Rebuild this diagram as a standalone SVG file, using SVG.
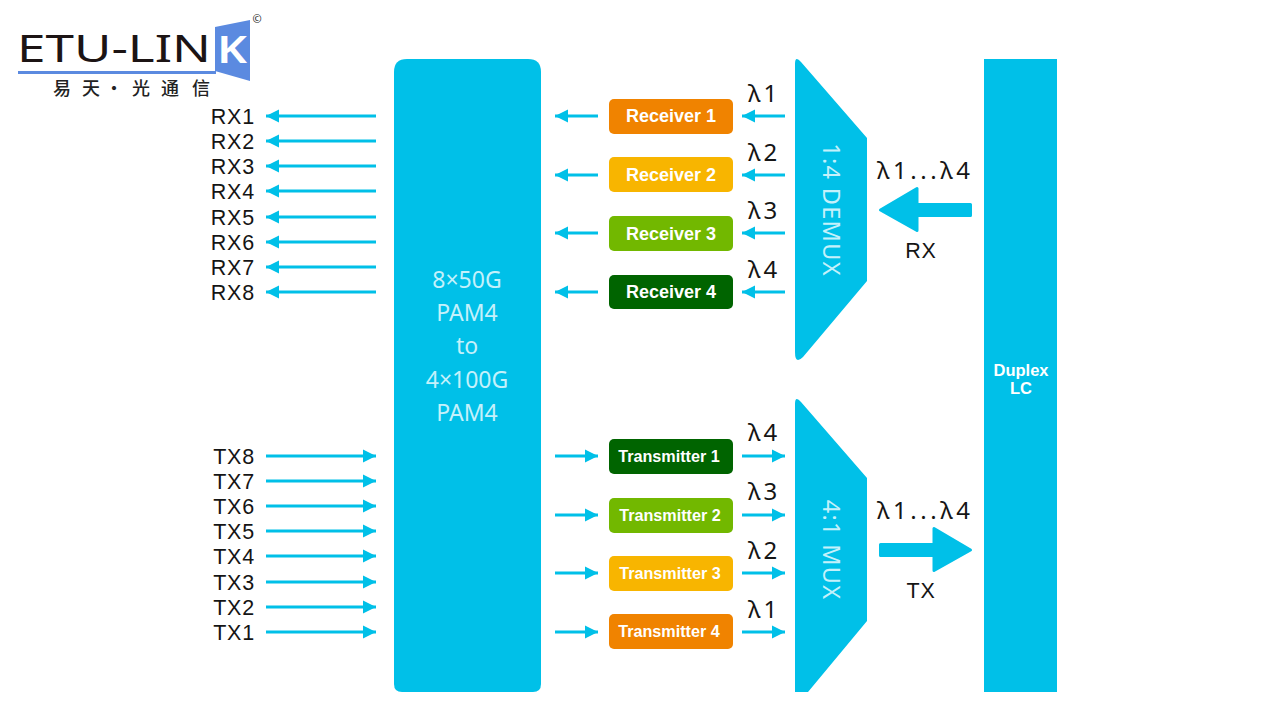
<svg xmlns="http://www.w3.org/2000/svg" width="1269" height="714" viewBox="0 0 1269 714">
<style>
.blk{fill:#00c0e8}
.lab{font-family:"Liberation Sans",Arial,sans-serif;font-size:21.500px;fill:#151515;letter-spacing:.8px}
.wl{font-family:"Noto Sans","Noto Sans CJK SC",sans-serif;font-size:24px;fill:#151515;letter-spacing:3px}
.pale{font-family:"Noto Sans",sans-serif;font-size:23px;fill:#c4f1fb;text-anchor:middle}
.v{font-size:23.500px;letter-spacing:1.3px}
.box{font-family:"Liberation Sans",Arial,sans-serif;font-weight:bold;fill:#fff;text-anchor:middle}
.r{font-size:18px}.t{font-size:16.200px}
.end{text-anchor:end}.mid{text-anchor:middle}
.cn{stroke:#00c0e8;stroke-width:3;fill:none;marker-end:url(#ah)}
</style>
<defs>
<marker id="ah" markerUnits="userSpaceOnUse" markerWidth="16" markerHeight="16" refX="13" refY="8" orient="auto"><path d="M0 1.500L13 8L0 14.500Z" fill="#00c0e8"/></marker>
</defs>
<rect width="1269" height="714" fill="#fff"/>
<g id="logo">
<path d="M215 27L250 20V81L215 71Z" fill="#5b8ae0"/>
<rect x="18" y="71" width="198" height="3" fill="#5b8ae0"/>
<text x="17" y="62" font-family="'Noto Sans',sans-serif" font-size="38" fill="#1c1414" textLength="194" lengthAdjust="spacingAndGlyphs">ETU-LIN</text>
<text x="217" y="63" font-family="'Noto Sans',sans-serif" font-size="38" font-weight="600" fill="#fff" textLength="30" lengthAdjust="spacingAndGlyphs">K</text>
<text x="257" y="23" font-family="'Noto Sans',sans-serif" font-size="11" fill="#222" text-anchor="middle">©</text>
<text x="53 82 105 132 161 192" y="95" font-family="'Noto Sans CJK SC',sans-serif" font-size="18" font-weight="500" fill="#222">易天·光通信</text>
</g>
<g id="connectors">
<path class="cn" d="M376 116H266"/><path class="cn" d="M376 141H266"/><path class="cn" d="M376 166H266"/><path class="cn" d="M376 191H266"/><path class="cn" d="M376 217H266"/><path class="cn" d="M376 242H266"/><path class="cn" d="M376 267H266"/><path class="cn" d="M376 292H266"/>
<path class="cn" d="M266 456H376"/><path class="cn" d="M266 481H376"/><path class="cn" d="M266 506H376"/><path class="cn" d="M266 531H376"/><path class="cn" d="M266 556H376"/><path class="cn" d="M266 582H376"/><path class="cn" d="M266 607H376"/><path class="cn" d="M266 632H376"/>
<path class="cn" d="M598 116H555"/><path class="cn" d="M598 175H555"/><path class="cn" d="M598 233H555"/><path class="cn" d="M598 292H555"/>
<path class="cn" d="M785 116H742"/><path class="cn" d="M785 175H742"/><path class="cn" d="M785 233H742"/><path class="cn" d="M785 292H742"/>
<path class="cn" d="M555 456H598"/><path class="cn" d="M555 515H598"/><path class="cn" d="M555 573H598"/><path class="cn" d="M555 632H598"/>
<path class="cn" d="M742 456H785"/><path class="cn" d="M742 515H785"/><path class="cn" d="M742 573H785"/><path class="cn" d="M742 632H785"/>
<path id="rx-arrow" class="blk" stroke="#00c0e8" stroke-width="3" stroke-linejoin="round" d="M970.500 204.500V215.500H917V230.500L880.500 210L917 188.500V204.500Z"/>
<path id="tx-arrow" class="blk" stroke="#00c0e8" stroke-width="3" stroke-linejoin="round" d="M880.500 544.500V555.500H934V570.500L970.500 550L934 528.500V544.500Z"/>
</g>
<g id="rx-labels" class="lab end">
<text x="255" y="124">RX1</text><text x="255" y="149">RX2</text><text x="255" y="174">RX3</text><text x="255" y="199">RX4</text><text x="255" y="225">RX5</text><text x="255" y="250">RX6</text><text x="255" y="275">RX7</text><text x="255" y="300">RX8</text>
</g>
<g id="tx-labels" class="lab end">
<text x="255" y="464">TX8</text><text x="255" y="489">TX7</text><text x="255" y="514">TX6</text><text x="255" y="539">TX5</text><text x="255" y="564">TX4</text><text x="255" y="590">TX3</text><text x="255" y="615">TX2</text><text x="255" y="640">TX1</text>
</g>
<g id="gearbox">
<path class="blk" d="M407 59H528Q541 59 541 72V684Q541 692 533 692H402Q394 692 394 684V72Q394 59 407 59Z"/>
<text class="pale" x="467" y="288">8×50G</text><text class="pale" x="467" y="321">PAM4</text><text class="pale" x="467" y="354">to</text><text class="pale" x="467" y="388">4×100G</text><text class="pale" x="467" y="421">PAM4</text>
</g>
<g id="receiver-1"><rect x="609" y="99" width="124" height="35" rx="5" fill="#f08300"/><text class="box r" x="671" y="122">Receiver 1</text></g>
<g id="receiver-2"><rect x="609" y="157" width="124" height="35" rx="5" fill="#f8b500"/><text class="box r" x="671" y="181">Receiver 2</text></g>
<g id="receiver-3"><rect x="609" y="216" width="124" height="35" rx="5" fill="#72b800"/><text class="box r" x="671" y="240">Receiver 3</text></g>
<g id="receiver-4"><rect x="609" y="275" width="124" height="34" rx="5" fill="#006400"/><text class="box r" x="671" y="298">Receiver 4</text></g>
<g id="transmitter-1"><rect x="609" y="439" width="124" height="35" rx="5" fill="#006400"/><text class="box t" x="669" y="462">Transmitter 1</text></g>
<g id="transmitter-2"><rect x="609" y="498" width="124" height="35" rx="5" fill="#72b800"/><text class="box t" x="670" y="521">Transmitter 2</text></g>
<g id="transmitter-3"><rect x="609" y="556" width="124" height="35" rx="5" fill="#f8b500"/><text class="box t" x="670" y="579">Transmitter 3</text></g>
<g id="transmitter-4"><rect x="609" y="614" width="124" height="35" rx="5" fill="#f08300"/><text class="box t" x="669" y="637">Transmitter 4</text></g>
<g id="wavelengths">
<text class="wl" x="748" y="102">λ1</text><text class="wl" x="748" y="161">λ2</text><text class="wl" x="748" y="219">λ3</text><text class="wl" x="748" y="278">λ4</text>
<text class="wl" x="748" y="441">λ4</text><text class="wl" x="748" y="500">λ3</text><text class="wl" x="748" y="559">λ2</text><text class="wl" x="748" y="618">λ1</text>
<text class="wl" x="877" y="179" textLength="96">λ1...λ4</text><text class="wl" x="877" y="519" textLength="96">λ1...λ4</text>
<text class="lab mid" x="921" y="258">RX</text><text class="lab mid" x="921" y="598">TX</text>
</g>
<g id="demux">
<path class="blk" d="M795 64Q795 55 801 62L867 138V281L803 357Q795 365 795 352Z"/>
<text class="pale v" transform="translate(823 210) rotate(90)">1:4 DEMUX</text>
</g>
<g id="mux">
<path class="blk" d="M795 404Q795 395 801 402L867 478V621L808 692H795Z"/>
<text class="pale v" transform="translate(823 550) rotate(90)" letter-spacing="2.500">4:1 MUX</text>
</g>
<g id="duplex-lc">
<rect class="blk" x="984" y="59" width="73" height="633"/>
<text class="box" font-size="16.500" x="1021" y="376">Duplex</text><text class="box" font-size="16.500" x="1021" y="394">LC</text>
</g>
</svg>
